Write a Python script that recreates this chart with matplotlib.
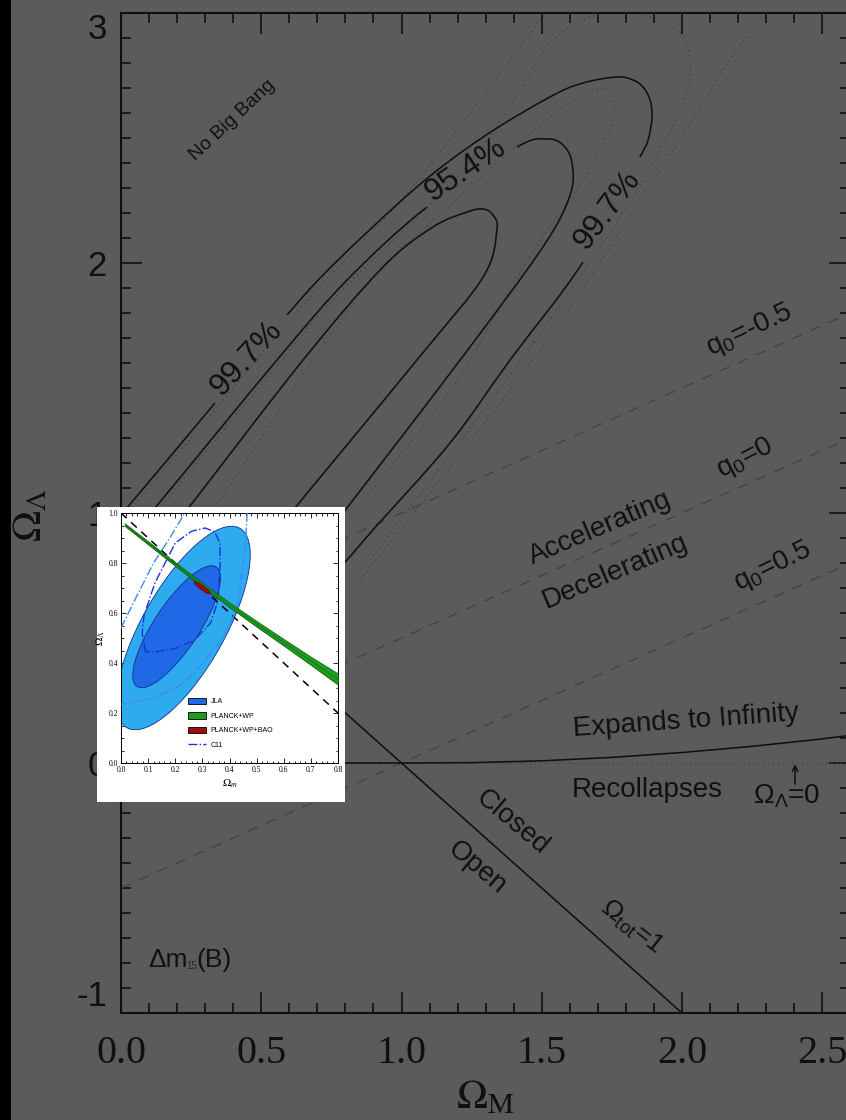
import numpy as np
import matplotlib
matplotlib.use("Agg")
import matplotlib.pyplot as plt
from matplotlib.patches import Ellipse, Rectangle, Patch, PathPatch
from matplotlib.lines import Line2D
from matplotlib.path import Path
from matplotlib.transforms import offset_copy
from matplotlib.ticker import MultipleLocator, FixedLocator, FormatStrFormatter

plt.rcParams['font.family'] = ['Liberation Sans', 'DejaVu Sans']
plt.rcParams['mathtext.fontset'] = 'custom'
plt.rcParams['mathtext.rm'] = 'Liberation Sans'
plt.rcParams['mathtext.it'] = 'Liberation Sans:italic'
plt.rcParams['mathtext.bf'] = 'Liberation Sans:bold'
plt.rcParams['axes.unicode_minus'] = False

# ---------------- data ----------------
x_ticks = [0.0, 0.5, 1.0, 1.5, 2.0, 2.5]
y_ticks = [-1, 0, 1, 2, 3]
y_tick_labels = ['-1', '0', '1', '2', '3']

q0_values = [-0.5, 0.0, 0.5]

flat_om = [0.0, 2.0]
flat_ol = [1.0, -1.0]

# expand / recollapse boundary
boundary_om = [0.0, 1.0, 1.25, 1.5, 1.75, 2.0, 2.25, 2.5, 2.6]
boundary_ol = [0.0, 0.0, 0.0015, 0.0086, 0.0224, 0.0419, 0.0667, 0.0965, 0.1106]

# confidence contours, solid (segment indices left open for the labels)
c997_om = [-0.039, 0.039, 0.335, 0.592, 0.763, 1.055, 1.291, 1.529, 1.647, 1.768,
           1.825, 1.861, 1.886, 1.893, 1.879, 1.850, 1.647, 1.387, 1.173, 0.898, 0.799, 0.638]
c997_ol = [0.940, 1.044, 1.440, 1.792, 2.000, 2.304, 2.504, 2.664, 2.720, 2.744,
           2.732, 2.704, 2.652, 2.584, 2.492, 2.424, 2.004, 1.612, 1.280, 0.932, 0.804, 0.612]
c997_gaps = [2, 15]

c954_om = [-0.039, 0.139, 0.556, 0.806, 1.091, 1.412, 1.519, 1.576, 1.608, 1.601,
           1.504, 1.209, 0.745, 0.638]
c954_ol = [0.808, 1.044, 1.612, 1.932, 2.224, 2.464, 2.496, 2.472, 2.400, 2.272,
           2.064, 1.612, 0.932, 0.780]
c954_gaps = [4]

c683_om = [0.103, 0.257, 0.649, 0.934, 1.112, 1.234, 1.291, 1.326, 1.340, 1.291,
           1.055, 0.556, 0.478]
c683_ol = [0.824, 1.044, 1.612, 1.984, 2.144, 2.204, 2.216, 2.192, 2.132, 1.944,
           1.612, 0.932, 0.812]

# confidence contours, dotted
d683_om = [0.299, 0.424, 0.684, 0.923, 1.137, 1.351, 1.565, 1.690, 1.743, 1.758, 1.725,
           1.636, 1.529, 1.412, 1.201, 0.995, 0.781, 0.709]
d683_ol = [0.972, 1.172, 1.612, 1.972, 2.192, 2.412, 2.612, 2.692, 2.684, 2.612, 2.492,
           2.312, 2.144, 1.944, 1.532, 1.232, 0.932, 0.832]

d954_om = [0.103, 0.513, 0.781, 1.066, 1.280, 1.422, 1.529, 1.647, 1.743, 1.850, 1.939,
           2.011, 2.029, 1.993, 1.922, 1.850, 1.761, 1.672, 1.565, 1.387, 1.173, 0.995, 0.888]
d954_ol = [0.972, 1.532, 1.884, 2.192, 2.452, 2.692, 2.880, 2.972, 3.004, 2.996, 2.960,
           2.892, 2.752, 2.612, 2.452, 2.312, 2.152, 2.004, 1.832, 1.552, 1.232, 0.972, 0.812]

d997_om = [0.014, 0.335, 0.602, 0.816, 1.030, 1.198, 1.387, 1.512, 1.565,
           2.342, 2.289, 2.135, 2.004, 1.850, 1.708, 1.565, 1.387, 1.209, 0.995, 0.852]
d997_ol = [0.992, 1.412, 1.772, 2.032, 2.292, 2.532, 2.812, 3.000, 3.092,
           3.092, 3.000, 2.752, 2.512, 2.252, 2.004, 1.764, 1.492, 1.232, 0.932, 0.732]
d997_gaps = [8]

# inset (JLA / Planck)
jla_center = [(0.230, 0.540), (0.205, 0.545)]
jla_size = [(0.90, 0.31), (0.56, 0.17)]
jla_angle = [63.0, 59.0]
jla_colors = ['#2EAAEE', '#1F68E6']

planck_om = [0.015, 0.1, 0.2, 0.3, 0.4, 0.5, 0.6, 0.7, 0.8]
planck_ol = [0.952, 0.880, 0.795, 0.712, 0.632, 0.556, 0.482, 0.408, 0.335]
planck_hw = [0.005, 0.006, 0.007, 0.008, 0.009, 0.011, 0.013, 0.016, 0.022]

bao_center = (0.300, 0.700)
bao_size = (0.075, 0.016)

inset_flat_om = [0.0, 0.8]
inset_flat_ol = [1.0, 0.2]

c11_outer_om = [0.0, 0.05, 0.12, 0.18, 0.235, None, 0.465, 0.458, 0.445, 0.43, 0.37, 0.27,
                0.21, 0.12, 0.03, 0.0]
c11_outer_ol = [0.54, 0.65, 0.80, 0.90, 1.00, None, 1.00, 0.86, 0.75, 0.62, 0.49, 0.36,
                0.305, 0.26, 0.24, 0.235]
c11_inner_om = [0.09, 0.078, 0.085, 0.125, 0.20, 0.26, 0.31, 0.345, 0.365, 0.365, 0.358,
                0.33, 0.27, 0.19, 0.13, 0.09]
c11_inner_ol = [0.445, 0.52, 0.59, 0.72, 0.88, 0.927, 0.94, 0.925, 0.88, 0.785, 0.65,
                0.56, 0.49, 0.455, 0.445, 0.445]

legend_labels = ['JLA', 'PLANCK+WP', 'PLANCK+WP+BAO', 'C11']

# ---------------- figure ----------------
W, H = 846, 1120
BG = '#5b5b5b'
INK = '#101010'
GREY = '#454545'

fig = plt.figure(figsize=(W / 100, H / 100), dpi=100)
fig.patch.set_facecolor(BG)
fig.patches.append(Rectangle((0, 0), 11 / W, 1, transform=fig.transFigure,
                             facecolor='black', edgecolor='none', zorder=0))


def px_box(l, t, r, b):
    return [l / W, 1 - b / H, (r - l) / W, (b - t) / H]


def spline_path(xs, ys, gaps=()):
    """Smooth path through the traced points (Catmull-Rom as cubic Bezier)."""
    P = np.column_stack([xs, ys]).astype(float)
    n = len(P)
    verts, codes = [], []
    pen = False
    for i in range(n - 1):
        if i in gaps:
            pen = False
            continue
        p0, p1, p2, p3 = P[max(i - 1, 0)], P[i], P[i + 1], P[min(i + 2, n - 1)]
        if not pen:
            verts.append(p1)
            codes.append(Path.MOVETO)
            pen = True
        verts += [p1 + (p2 - p0) / 6.0, p2 - (p3 - p1) / 6.0, p2]
        codes += [Path.CURVE4] * 3
    return Path(verts, codes)


ax = fig.add_axes(px_box(121, 13, 850.3, 1013))
ax.set_zorder(1)
ax.set_facecolor(BG)
ax.set_xlim(0, 2.6)
ax.set_ylim(-1, 3)
for s in ax.spines.values():
    s.set_linewidth(1.5)
    s.set_color(INK)

ax.xaxis.set_major_locator(FixedLocator(x_ticks))
ax.xaxis.set_minor_locator(MultipleLocator(0.1))
ax.yaxis.set_major_locator(FixedLocator(y_ticks))
ax.yaxis.set_minor_locator(MultipleLocator(0.1))
ax.tick_params(which='both', direction='in', top=True, right=True, color=INK, width=1.2)
ax.tick_params(which='major', length=15)
ax.tick_params(which='minor', length=7)
ax.tick_params(axis='x', which='major', pad=16)
ax.tick_params(axis='y', which='major', pad=10)
ax.set_xticklabels(['%.1f' % v for v in x_ticks], fontfamily='Liberation Serif',
                   fontsize=29, color=INK)
ax.set_yticklabels(y_tick_labels, fontfamily='Liberation Sans', fontsize=25, color=INK)
# end labels sit inside the axis range
for lab, v in zip(ax.get_yticklabels(), y_ticks):
    if v == y_ticks[-1]:
        lab.set_verticalalignment('top')
    elif v == y_ticks[0]:
        lab.set_verticalalignment('bottom')

lw = 1.15
ax.plot(flat_om, flat_ol, color=INK, lw=lw, zorder=3)
ax.plot([0, 2.6], [0, 0], color=GREY, lw=1.0, ls=(0, (1, 2.5)), zorder=2)
ax.plot(boundary_om, boundary_ol, color=INK, lw=lw, zorder=3)

om_line = np.array([0.0, 2.6])
for q0 in q0_values:
    ax.plot(om_line, om_line / 2.0 - q0, color=GREY, lw=1.1, ls=(0, (7, 6)), zorder=2)

dot_kw = dict(fill=False, edgecolor=GREY, lw=1.0, linestyle=(0, (1, 2.5)), zorder=2)
ax.add_patch(PathPatch(spline_path(d683_om, d683_ol), **dot_kw))
ax.add_patch(PathPatch(spline_path(d954_om, d954_ol), **dot_kw))
ax.add_patch(PathPatch(spline_path(d997_om, d997_ol, d997_gaps), **dot_kw))

sol_kw = dict(fill=False, edgecolor=INK, lw=lw, zorder=3)
ax.add_patch(PathPatch(spline_path(c997_om, c997_ol, c997_gaps), **sol_kw))
ax.add_patch(PathPatch(spline_path(c954_om, c954_ol, c954_gaps), **sol_kw))
ax.add_patch(PathPatch(spline_path(c683_om, c683_ol), **sol_kw))

tk = dict(color=INK, ha='center', va='center', rotation_mode='anchor', zorder=4)
ax.text(0.399, 2.572, 'No Big Bang', fontsize=14, rotation=43, **tk)
ax.text(1.230, 2.372, '95.4%', fontsize=23, rotation=34, **tk)
ax.text(0.446, 1.620, '99.7%', fontsize=23, rotation=47, **tk)
ax.text(1.733, 2.212, '99.7%', fontsize=23, rotation=53, **tk)
ax.text(2.242, 1.732, r'q$_{\mathrm{0}}$=-0.5', fontsize=20, rotation=25, **tk)
ax.text(2.225, 1.220, r'q$_{\mathrm{0}}$=0', fontsize=20, rotation=27, **tk)
ax.text(1.708, 0.940, 'Accelerating', fontsize=20, rotation=23, **tk)
ax.text(1.761, 0.764, 'Decelerating', fontsize=20, rotation=23, **tk)
ax.text(2.324, 0.784, r'q$_{\mathrm{0}}$=0.5', fontsize=20, rotation=26, **tk)
ax.text(2.014, 0.166, 'Expands to Infinity', fontsize=20, rotation=4, **tk)
ax.text(1.875, -0.108, 'Recollapses', fontsize=20, rotation=0, **tk)
ax.text(2.374, -0.135, r'$\Omega_{\Lambda}$=0', fontsize=20, rotation=0, **tk)
ax.annotate('', xy=(2.403, -0.005), xytext=(2.403, -0.085),
            arrowprops=dict(arrowstyle='->', color=INK, lw=1.1, shrinkA=0, shrinkB=0),
            zorder=4)
ax.text(1.394, -0.236, 'Closed', fontsize=20, rotation=-40, **tk)
ax.text(1.269, -0.420, 'Open', fontsize=20, rotation=-40, **tk)
ax.text(1.818, -0.656, r'$\Omega_{\mathrm{tot}}$=1', fontsize=19, rotation=-38, **tk)

# method tag: Delta m with a small 15 subscript, then (B)
tag_x, tag_y = 0.096, -0.816
ax.text(tag_x, tag_y, '\u0394m', fontsize=19, color=INK, ha='left', va='baseline', zorder=4)
ax.text(tag_x, tag_y, '15', fontsize=7, color='#2a2a2a', ha='left', va='baseline', zorder=4,
        transform=offset_copy(ax.transData, fig=fig, x=38, y=-2, units='dots'))
ax.text(tag_x, tag_y, '(B)', fontsize=19, color=INK, ha='left', va='baseline', zorder=4,
        transform=offset_copy(ax.transData, fig=fig, x=48, y=0, units='dots'))

fig.text(485 / W, 1 - 1097 / H, r'$\Omega_{\mathrm{M}}$', fontsize=30, color=INK,
         ha='center', va='center', math_fontfamily='stix')
fig.text(30 / W, 1 - 515 / H, r'$\Omega_{\Lambda}$', fontsize=30, color=INK,
         ha='center', va='center', rotation=90, math_fontfamily='stix')

# ---------------- inset ----------------
box = fig.add_axes(px_box(97, 507, 345, 802))
box.set_zorder(3)
box.set_facecolor('white')
box.set_xticks([])
box.set_yticks([])
for s in box.spines.values():
    s.set_visible(False)

ia = fig.add_axes(px_box(121, 513, 338, 763))
ia.set_zorder(4)
ia.set_facecolor('white')
ia.set_xlim(0, 0.8)
ia.set_ylim(0, 1.0)
ia.xaxis.set_major_locator(MultipleLocator(0.1))
ia.xaxis.set_minor_locator(MultipleLocator(0.02))
ia.yaxis.set_major_locator(MultipleLocator(0.2))
ia.yaxis.set_minor_locator(MultipleLocator(0.05))
ia.xaxis.set_major_formatter(FormatStrFormatter('%.1f'))
ia.yaxis.set_major_formatter(FormatStrFormatter('%.1f'))
ia.tick_params(which='both', direction='in', top=True, right=True, width=0.6, pad=2,
               labelsize=5.5)
ia.tick_params(which='major', length=3.5)
ia.tick_params(which='minor', length=1.8)
for lab in ia.get_xticklabels() + ia.get_yticklabels():
    lab.set_fontfamily('Liberation Serif')
for s in ia.spines.values():
    s.set_linewidth(0.7)

for (c, (w, h), ang, col) in zip(jla_center, jla_size, jla_angle, jla_colors):
    ia.add_patch(Ellipse(c, w, h, angle=ang, facecolor=col, edgecolor='#0d2f8a',
                         lw=0.6, zorder=2))

pl_om = np.array(planck_om)
pl_ol = np.array(planck_ol)
pl_hw = np.array(planck_hw)
ia.fill_between(pl_om, pl_ol - pl_hw, pl_ol + pl_hw, color='#1E9E1E', lw=0, zorder=4)
ia.plot(pl_om, pl_ol + pl_hw, color='#0B5E0B', lw=0.6, zorder=4)
ia.plot(pl_om, pl_ol - pl_hw, color='#0B5E0B', lw=0.6, zorder=4)
ia.plot(pl_om, pl_ol, color='#0B6E0B', lw=0.5, zorder=4)

ia.add_patch(Ellipse(bao_center, bao_size[0], bao_size[1], angle=-38,
                     facecolor='#9A0E0E', edgecolor='#5a0000', lw=0.4, zorder=5))

ia.plot(inset_flat_om, inset_flat_ol, color='black', lw=1.1, ls=(0, (5, 4)), zorder=3)

ia.plot(c11_outer_om, c11_outer_ol, color='#3D8BF2', lw=1.0, ls='-.', zorder=3)
ia.plot(c11_inner_om, c11_inner_ol, color='#1A2FE0', lw=1.0, ls='-.', zorder=3)

ia.set_xlabel(r'$\Omega_{m}$', fontsize=8, labelpad=3, math_fontfamily='stix')
ia.set_ylabel(r'$\Omega_{\Lambda}$', fontsize=8, labelpad=1, math_fontfamily='stix')

handles = [Patch(facecolor='#1F68E6', edgecolor='black', lw=0.6),
           Patch(facecolor='#1E9E1E', edgecolor='black', lw=0.6),
           Patch(facecolor='#9A0E0E', edgecolor='black', lw=0.6),
           Line2D([], [], color='#1A2FE0', lw=1.0, ls='-.')]
ia.legend(handles, legend_labels, loc='upper left', bbox_to_anchor=(0.31, 0.262),
          frameon=False, fontsize=5, handlelength=2.6, handleheight=1.1,
          labelspacing=1.0, handletextpad=0.6, borderaxespad=0, borderpad=0)

fig.savefig('out.png', dpi=100, facecolor=fig.get_facecolor())
